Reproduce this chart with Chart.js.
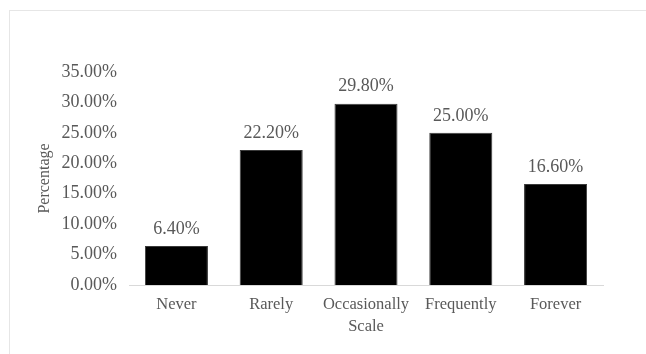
<!DOCTYPE html>
<html>
<head>
<meta charset="utf-8">
<script src="https://cdn.jsdelivr.net/npm/chart.js@4/dist/chart.umd.min.js"></script>
<style>
  html, body { margin: 0; padding: 0; background: #ffffff; }
  #wrap { position: relative; width: 646px; height: 354px; overflow: hidden; }
  #frame { position: absolute; left: 9px; top: 10px; width: 700px; height: 400px;
           border-left: 1px solid #e6e6e6; border-top: 1px solid #e6e6e6; }
  canvas { position: absolute; left: 0; top: 0; }
</style>
</head>
<body>
<div id="wrap">
  <div id="frame"></div>
  <canvas id="c" width="646" height="354"></canvas>
</div>
<script>
// Response frequency distribution (percent of respondents)
const categories = ['Never', 'Rarely', 'Occasionally', 'Frequently', 'Forever'];
const percentages = [6.4, 22.2, 29.8, 25.0, 16.6];
const yTickValues = [0, 5, 10, 15, 20, 25, 30, 35];

const textGray = '#595959';
const serif = "'Liberation Serif', 'Times New Roman', serif";

// Writes each bar's value just above it
const valueLabels = {
  id: 'valueLabels',
  afterDatasetsDraw(chart) {
    const ctx = chart.ctx;
    const meta = chart.getDatasetMeta(0);
    ctx.save();
    ctx.fillStyle = textGray;
    ctx.font = "18px " + serif;
    ctx.textAlign = 'center';
    ctx.textBaseline = 'middle';
    meta.data.forEach((bar, i) => {
      ctx.fillText(percentages[i].toFixed(2) + '%', bar.x, bar.y - 17);
    });
    ctx.restore();
  }
};

new Chart(document.getElementById('c'), {
  type: 'bar',
  data: {
    labels: categories,
    datasets: [{
      data: percentages,
      backgroundColor: '#000000',
      borderColor: '#3a3a3a',
      borderWidth: 1,
      barPercentage: 0.665,
      categoryPercentage: 1.0
    }]
  },
  options: {
    responsive: false,
    animation: false,
    layout: { padding: { left: 0, right: 43, top: 72, bottom: 0 } },
    plugins: { legend: { display: false }, tooltip: { enabled: false } },
    scales: {
      x: {
        grid: { display: false, drawTicks: false },
        border: { display: true, color: '#d9d9d9', width: 1 },
        ticks: { color: textGray, font: { family: serif, size: 16.5 }, padding: 10, maxRotation: 0 },
        title: { display: true, text: 'Scale', color: textGray,
                 font: { family: serif, size: 16.5 }, padding: { top: 0, bottom: 17 } },
        afterFit(scale) { scale.height = 69; }
      },
      y: {
        min: 0, max: 35,
        afterBuildTicks(scale) { scale.ticks = yTickValues.map(v => ({ value: v })); },
        grid: { display: false, drawTicks: false },
        border: { display: false },
        ticks: { color: textGray, font: { family: serif, size: 18 }, padding: 12,
                 callback: v => v.toFixed(2) + '%' },
        title: { display: true, text: 'Percentage', color: textGray,
                 font: { family: serif, size: 16 }, padding: { top: 35, bottom: 0 } },
        afterFit(scale) { scale.width = 129; }
      }
    }
  },
  plugins: [valueLabels]
});
</script>
</body>
</html>
